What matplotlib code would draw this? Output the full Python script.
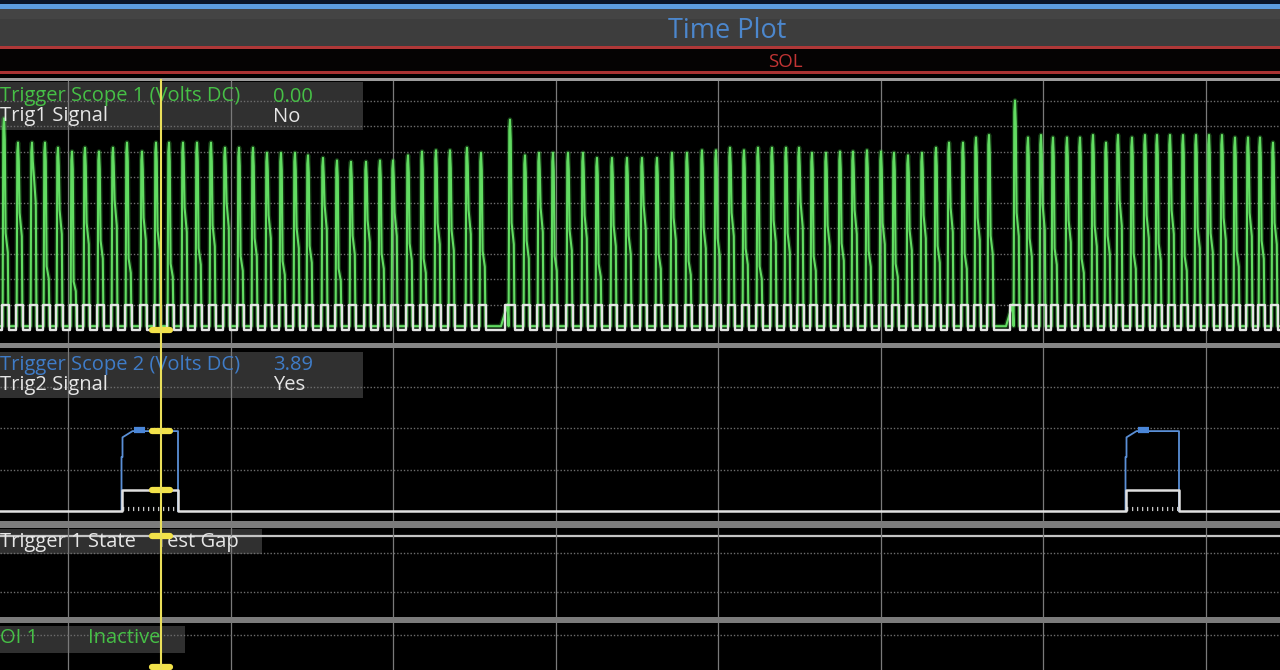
import numpy as np
import matplotlib
matplotlib.use("Agg")
import matplotlib.pyplot as plt
from matplotlib.patches import Rectangle

plt.rcParams['font.family'] = ['Open Sans', 'DejaVu Sans']

W, H = 1280, 670          # screen size in px
T_END = 1280              # time span of the plot (sample units)

# ---------------- data ----------------
# Trigger Scope 1: time of each pulse peak
trig1_pulse_t = [4, 18, 32, 45, 58, 72, 85, 99, 113, 127, 142, 156, 169, 183, 197, 211, 225, 239,
                 253, 267, 281, 295, 308, 323, 337, 351, 366, 380, 393, 408, 422, 436, 450, 467, 481,
                 510, 525, 539, 553, 568, 583, 597, 612, 627, 642, 657, 672, 687, 702, 716, 730, 744,
                 758, 772, 786, 799, 812, 826, 840, 853, 867, 881, 894, 908, 922, 936, 949, 963, 976, 989,
                 1015, 1028, 1041, 1053, 1067, 1080, 1093, 1106, 1118, 1132, 1145, 1157, 1170, 1183,
                 1196, 1209, 1222, 1235, 1248, 1260, 1273]
# peak voltage of each pulse (V)
trig1_peak_v = [8.3, 7.35, 7.35, 7.35, 7.15, 7.0, 7.15, 7.0, 7.15, 7.35, 7.0, 7.35, 7.35, 7.35, 7.35,
                7.35, 7.15, 7.15, 7.15, 6.95, 6.95, 6.95, 6.85, 6.75, 6.65, 6.6, 6.6, 6.65, 6.65, 6.85,
                7.0, 7.05, 7.05, 7.15, 6.95,
                8.25, 6.85, 6.95, 6.95, 6.95, 6.95, 6.75, 6.75, 6.75, 6.75, 6.75, 6.95, 6.95, 7.05,
                7.05, 7.15, 7.05, 7.15, 7.15, 7.15, 7.15, 6.95, 6.95, 7.0, 7.0, 7.05, 7.0, 6.95, 6.85,
                6.95, 7.15, 7.35, 7.35, 7.55, 7.65,
                9.0, 7.55, 7.65, 7.55, 7.55, 7.55, 7.65, 7.35, 7.65, 7.55, 7.65, 7.65, 7.65, 7.65,
                7.65, 7.65, 7.65, 7.55, 7.55, 7.55, 7.35]
# shoulder voltage after each peak (V)
trig1_shoulder_v = [3.8, 4.6, 6.2, 2.5, 4.7, 1.9, 4.2, 3.5, 5.1, 2.8, 4.4, 3.9, 2.6, 4.8, 3.2, 4.1, 5.0,
                    2.9, 3.6, 4.5, 2.7, 4.0, 3.3, 4.9, 2.4, 3.7, 4.3, 3.0, 4.6, 3.4, 2.8, 4.2, 3.9, 4.7, 3.1,
                    4.2, 3.5, 4.8, 2.9, 3.9, 4.5, 2.6, 4.1, 3.7, 4.9, 3.0, 4.4, 2.7, 4.0, 3.6, 4.6, 3.2,
                    2.5, 4.3, 3.8, 5.0, 2.9, 4.1, 3.4, 4.7, 3.1, 4.2, 2.6, 3.9, 4.5, 3.3, 4.8, 3.0, 4.4, 3.7,
                    4.6, 3.6, 4.9, 3.2, 4.3, 2.8, 4.1, 3.7, 5.1, 3.0, 4.5, 3.4, 4.7, 2.9, 4.0, 3.8, 4.4,
                    3.1, 4.6, 3.5, 4.2]
trig1_base_v = 0.15
trig1_value_text = "0.00"
trig1_signal_text = "No"

# Trigger Scope 2: two pulses
trig2_on_t = [121.5, 1125.5]
trig2_off_t = [178, 1179]
trig2_step_v = [2.6, 3.55, 3.85]   # blue trace levels on rise
trig2_peak_v = 3.95
trig2_value_text = "3.89"
trig2_signal_text = "Yes"

cursor_t = 161
state_text = "Test Gap"
doi_text = "Inactive"

# grid: divisions along time
grid_t0, grid_step = 68, 162.5

# ---------------- figure ----------------
fig = plt.figure(figsize=(W / 100, H / 100), dpi=100)
fig.patch.set_facecolor('black')

bg = fig.add_axes([0, 0, 1, 1], zorder=0)
bg.set_xlim(0, W); bg.set_ylim(H, 0); bg.axis('off')


def band(y, h, c, x=0, w=W):
    bg.add_patch(Rectangle((x, y), w, h, facecolor=c, edgecolor='none'))


band(0, H, '#000000')
band(0, 4, '#0b1628')
band(4, 4.5, '#5d9ddf')
band(8.5, 38, '#3d3d3d')
band(8.5, 10, '#444444')
band(46, 2.5, '#b03838')
band(48.5, 22.5, '#050303')
band(71, 2.5, '#a83232')
band(78, 2.5, '#9c9c9c')
band(343, 5, '#858585')
band(521, 7, '#7c7c7c')
band(617, 6, '#7c7c7c')
# state line of Trigger 1 State
bg.plot([0, W], [536, 536], color='#c4c4c4', lw=1.6)
# label boxes
band(82, 48, '#303030', 0, 363)
band(352, 46, '#303030', 0, 363)
band(529, 25, '#303030', 0, 262)
band(626, 27, '#303030', 0, 185)


def panel(top, bot, y_at, ppv, yticks):
    ax = fig.add_axes([0, 1 - bot / H, 1, (bot - top) / H], zorder=1)
    ax.set_facecolor('none')
    ax.set_xlim(0, T_END)
    ax.set_ylim((y_at - bot) / ppv, (y_at - top) / ppv)
    ax.set_xticks(np.arange(grid_t0, T_END, grid_step))
    ax.set_yticks(yticks)
    ax.grid(True, axis='x', color='#7a7a7a', lw=0.9, ls='-')
    ax.grid(True, axis='y', color='#6e6e6e', lw=1.0, ls=(0, (1, 1.4)))
    ax.tick_params(length=0, labelleft=False, labelbottom=False)
    for s in ax.spines.values():
        s.set_visible(False)
    return ax


ax1 = panel(81, 343, 330, 25.5, list(range(1, 10)))
ax2 = panel(348, 521, 511, 20.75, [2, 4, 6])
ax3 = panel(528, 617, 592, 39, [0, 1])
ax4 = panel(623, 670, 674, 39, [1])

# ---- Trigger Scope 1 trace and Trig1 Signal square wave ----
gt, gv, st, sv = [0], [trig1_base_v], [0], [0]
prev = -100
for t0, p, s in zip(trig1_pulse_t, trig1_peak_v, trig1_shoulder_v):
    after_gap = (t0 - prev) > 20
    if after_gap and prev > 0:
        gt += [t0 - 9, t0 - 2.5]
        gv += [trig1_base_v, 1.0]
    gt += [t0 - 1.4, t0 - 0.7, t0, t0 + 0.8, t0 + 1.6, t0 + 3.8, t0 + 4.5]
    gv += [trig1_base_v, p * 0.95, p, p * 0.9, s, s * 0.8, trig1_base_v]
    rise = t0 - (5 if after_gap and prev > 0 else 2)
    st += [rise, rise, t0 + 5, t0 + 5]
    sv += [0, 1, 1, 0]
    prev = t0
gt.append(T_END); gv.append(trig1_base_v)
st.append(T_END); sv.append(0)
ax1.plot(gt, gv, color='#3fbf3f', lw=3.4, alpha=0.3, zorder=3)
ax1.plot(gt, gv, color='#62dc62', lw=1.5, zorder=4)
ax1.plot(st, sv, color='#e4e4e4', lw=1.7, zorder=5)

# ---- Trigger Scope 2 ----
for on, off in zip(trig2_on_t, trig2_off_t):
    bt = [on, on, on + 1, on + 1, on + 11, off, off]
    bv = [0, trig2_step_v[0], trig2_step_v[0], trig2_step_v[1], trig2_step_v[2],
          trig2_step_v[2], 0]
    ax2.plot(bt, bv, color='#5a8fd6', lw=1.3, zorder=4)
    ax2.plot([on + 12, on + 23], [(trig2_step_v[2] + trig2_peak_v) / 2] * 2,
             color='#4a86d8', lw=4.5, solid_capstyle='butt', zorder=4)
    ax2.plot([on + 1, off - 1], [0.12, 0.12], color='#c8c8c8', lw=3,
             ls=(0, (0.3, 0.9)), zorder=4)
wt, wv = [0], [0]
for on, off in zip(trig2_on_t, trig2_off_t):
    wt += [on, on, off, off]
    wv += [0, 1, 1, 0]
wt.append(T_END); wv.append(0)
ax2.plot(wt, wv, color='#e0e0e0', lw=1.8, zorder=5)

# ---- cursor markers ----
yel = '#f2e24a'
mk = dict(color=yel, lw=4.5, solid_capstyle='round', zorder=8)
ax1.plot([cursor_t - 9, cursor_t + 9], [0, 0], **mk)
ax2.plot([cursor_t - 9, cursor_t + 9], [trig2_step_v[2], trig2_step_v[2]], **mk)
ax2.plot([cursor_t - 9, cursor_t + 9], [1, 1], **mk)

# ---- overlay: texts and cursor ----
ov = fig.add_axes([0, 0, 1, 1], zorder=5)
ov.set_facecolor('none'); ov.axis('off')
ov.set_xlim(0, W); ov.set_ylim(H, 0)

ov.text(727, 31, "Time Plot", color='#4c87cd', fontsize=19.5, ha='center', va='center')
ov.text(785, 62, "SOL", color='#c23434', fontsize=13.5, ha='center', va='center')

green_t = '#46c046'
white_t = '#e6e6e6'
blue_t = '#3f7cc8'
fs = 14.5
ov.text(0, 96.5, "Trigger Scope 1 (Volts DC)", color=green_t, fontsize=fs, va='center')
ov.text(273, 96.5, trig1_value_text, color=green_t, fontsize=fs, va='center')
ov.text(0, 116.5, "Trig1 Signal", color=white_t, fontsize=fs, va='center')
ov.text(273, 116.5, trig1_signal_text, color=white_t, fontsize=fs, va='center')
ov.text(0, 365, "Trigger Scope 2 (Volts DC)", color=blue_t, fontsize=fs, va='center')
ov.text(273, 365, trig2_value_text, color=blue_t, fontsize=fs, va='center')
ov.text(0, 385, "Trig2 Signal", color=white_t, fontsize=fs, va='center')
ov.text(273, 385, trig2_signal_text, color=white_t, fontsize=fs, va='center')
ov.text(0, 542, "Trigger 1 State", color=white_t, fontsize=fs, va='center')
ov.text(156, 542, state_text, color=white_t, fontsize=fs, va='center')
ov.text(0, 638, "OI 1", color=green_t, fontsize=fs, va='center')
ov.text(88, 638, doi_text, color=green_t, fontsize=fs, va='center')

ov.plot([cursor_t, cursor_t], [80, H], color='#eadf5a', lw=1.5, zorder=9)
ov.plot([cursor_t - 9, cursor_t + 9], [536, 536], **mk)
ov.plot([cursor_t - 9, cursor_t + 9], [667, 667], **mk)

fig.savefig('out.png', dpi=100, facecolor='black')
